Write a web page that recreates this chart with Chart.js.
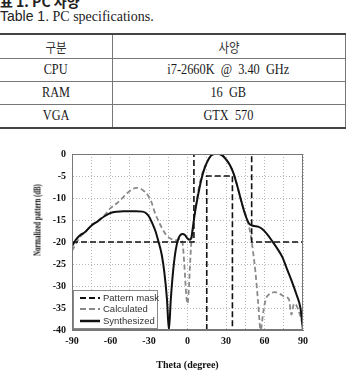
<!DOCTYPE html>
<html><head><meta charset="utf-8">
<script src="https://cdn.jsdelivr.net/npm/chart.js@4.4.1/dist/chart.umd.min.js"></script>
<style>
html,body{margin:0;padding:0;background:#fff;}
body{width:347px;height:371px;overflow:hidden;position:relative;}
#kcap{position:absolute;left:0;top:-6px;font:bold 14px/14px "Noto Sans CJK KR";color:#222;white-space:nowrap;}
#ecap{position:absolute;left:0;top:8px;line-height:16px;font-size:14px;color:#222;white-space:nowrap;}
#ecap .sans{font-family:"Liberation Sans Narrow","Liberation Sans";}
#ecap .serif{font-family:"Liberation Serif";}
#tbl{position:absolute;left:0;top:33px;border-collapse:collapse;table-layout:fixed;}
#tbl td{padding:0;text-align:center;border-bottom:1px solid #777;border-right:1px solid #777;font:14px "Liberation Serif";color:#1a1a1a;overflow:hidden;white-space:nowrap;}
#tbl tr:first-child td{border-top:2px solid #444;height:23px;}
#tbl tr:last-child td{border-bottom:2px solid #444;}
#tbl td span{display:inline-block;transform:scaleX(0.88);}
#tbl td.k{font-family:"Noto Sans CJK KR";font-size:13px;color:#333;}
#c{position:absolute;left:0;top:140px;}
#ytitle{position:absolute;left:37px;top:220px;transform:translate(-50%,-50%) rotate(-90deg) scaleX(0.68);font:bold 10px "Liberation Serif";color:#111;white-space:nowrap;z-index:2;}
#legend{position:absolute;left:73px;top:290px;width:83px;height:37px;border:1px solid #888;background:#fff;z-index:2;}
#legend .row{position:absolute;left:0;height:12px;width:83px;}
#legend svg{position:absolute;left:6px;top:0;}
#legend span{position:absolute;left:29px;top:0;font:9.5px/12px "Liberation Sans";color:#333;white-space:nowrap;}
</style></head><body>
<div id="kcap">표 1. PC 사양</div>
<div id="ecap"><span class="sans">Table 1.</span>&nbsp;<span class="serif">PC specifications.</span></div>
<table id="tbl">
<colgroup><col style="width:112px"><col style="width:233px"></colgroup>
<tr><td class="k"><span>구분</span></td><td class="k"><span>사양</span></td></tr>
<tr><td style="height:22px"><span>CPU</span></td><td><span>i7-2660K&nbsp; @&nbsp; 3.40&nbsp; GHz</span></td></tr>
<tr><td style="height:22px"><span>RAM</span></td><td><span>16&nbsp; GB</span></td></tr>
<tr><td style="height:22px"><span>VGA</span></td><td><span>GTX&nbsp; 570</span></td></tr>
</table>
<canvas id="c" width="347" height="231"></canvas>
<div id="ytitle">Normalized pattern (dB)</div>
<div id="legend">
 <div class="row" style="top:1px"><svg width="20" height="12"><line x1="0" y1="6" x2="20" y2="6" stroke="#111" stroke-width="2" stroke-dasharray="6,3"/></svg><span>Pattern mask</span></div>
 <div class="row" style="top:12px"><svg width="20" height="12"><line x1="0" y1="6" x2="20" y2="6" stroke="#888" stroke-width="2" stroke-dasharray="6,3"/></svg><span>Calculated</span></div>
 <div class="row" style="top:24px"><svg width="20" height="12"><line x1="0" y1="6" x2="20" y2="6" stroke="#111" stroke-width="2.5"/></svg><span>Synthesized</span></div>
</div>
<script>
// ---- data ----
const synthTheta = [-90,-87,-84,-80,-75,-70,-65,-60,-55,-50,-45,-40,-35,-32,-30,-28,-25,-23,-20,-18,-16,-14.5,-13,-11,-9,-7,-4,-2,0,2,3,4.5,6,8,10.7,13,15,18,21,24,27,30,33,36,39,42,45,48,51,55,58,62,66,70,74,78,82,85,88,90];
const synthDb    = [-21,-19.5,-18.5,-17.8,-16.3,-15.3,-14.2,-13.4,-13.1,-13,-13,-13,-13.1,-13.5,-14.2,-15.4,-17.5,-19.5,-23,-27,-33,-40,-33,-26,-21.5,-19.2,-18.2,-18.4,-19.2,-19.5,-19,-16,-13,-9.7,-5.9,-3.5,-2,-0.5,0,0,-0.3,-1.2,-2.5,-4.5,-7.5,-10.8,-13.8,-15.8,-16.3,-16.5,-17,-18.2,-19.8,-21.5,-23.5,-26.5,-29.5,-32,-35,-40];
const calcTheta  = [-90,-87,-84,-80,-75,-70,-65,-60,-55,-50,-47,-43,-40,-37,-34,-31,-28,-25.7,-23,-20.5,-16.6,-12.7,-9,-6,-4,-2.5,-1,0,1,2,3,4,5,7,9,12,15,18,21,24,27,30,33,36,39,42,45,47,49,51,53,55,57,59,61,64,68,72,76,79,81,83,85,87,89,90];
const calcDb     = [-22,-20.5,-19,-17.8,-16.3,-15.2,-14,-12.3,-11.2,-9.8,-8.9,-8,-7.7,-7.8,-8.4,-9.3,-11,-13.1,-15,-16.5,-18.4,-19.3,-19.6,-19.3,-20,-25,-32,-34,-31,-25,-20,-17.5,-15,-11,-7.5,-4,-2,-0.5,0,0,-0.3,-1.2,-2.5,-4.5,-7.5,-10.8,-13.5,-15.5,-18,-22,-27,-33.6,-40,-36,-33,-31.8,-31.4,-31.8,-32.5,-33,-36.5,-34,-34.5,-36,-38,-40];
const maskUpperTheta = [-90,5,5,50,50,90];
const maskUpperDb    = [-20,-20,0,0,-20,-20];
const maskLowerTheta = [15,15,35,35];
const maskLowerDb    = [-40,-5,-5,-40];
const xTicks = [-90,-60,-30,0,30,60,90];
const yTicks = [0,-5,-10,-15,-20,-25,-30,-35,-40];

const pts = (xs, ys) => xs.map((x, i) => ({x: x, y: ys[i]}));

const framePlugin = {
  id: 'frame',
  afterDraw(chart) {
    const a = chart.chartArea, ctx = chart.ctx;
    ctx.save();
    ctx.strokeStyle = '#777';
    ctx.lineWidth = 1;
    ctx.strokeRect(Math.round(a.left) + 0.5, Math.round(a.top) + 0.5, Math.round(a.right - a.left) - 1, Math.round(a.bottom - a.top) - 1);
    ctx.restore();
  }
};

const tickFont = {family: '"Liberation Serif", "Times New Roman", serif', size: 10, weight: 'bold'};

new Chart(document.getElementById('c'), {
  type: 'scatter',
  data: {
    datasets: [
      {label: 'Pattern mask', data: pts(maskUpperTheta, maskUpperDb), showLine: true, borderColor: '#111', borderWidth: 1.6, borderDash: [6, 3], pointRadius: 0, tension: 0, order: 1},
      {label: 'Pattern mask (lower)', data: pts(maskLowerTheta, maskLowerDb), showLine: true, borderColor: '#111', borderWidth: 1.6, borderDash: [6, 3], pointRadius: 0, tension: 0, order: 1},
      {label: 'Calculated', data: pts(calcTheta, calcDb), showLine: true, borderColor: '#8a8a8a', borderWidth: 1.8, borderDash: [5, 3], pointRadius: 0, cubicInterpolationMode: 'monotone', order: 3},
      {label: 'Synthesized', data: pts(synthTheta, synthDb), showLine: true, borderColor: '#111', borderWidth: 2, pointRadius: 0, cubicInterpolationMode: 'monotone', order: 2}
    ]
  },
  options: {
    responsive: false,
    devicePixelRatio: 1,
    animation: false,
    layout: {padding: {top: 14, right: 44, left: 0, bottom: 0}},
    plugins: {legend: {display: false}, tooltip: {enabled: false}},
    scales: {
      x: {
        type: 'linear', min: -90, max: 90,
        afterBuildTicks(s) { const t = []; for (let v = -90; v <= 90; v += 15) t.push({value: v}); s.ticks = t; },
        afterFit(s) { s.height = 41; },
        ticks: {autoSkip: false, maxRotation: 0, padding: 5, color: '#111', font: tickFont,
          callback: (v) => xTicks.includes(v) ? String(v) : ''},
        grid: {color: '#b8b8b8', lineWidth: 1, drawTicks: false},
        border: {display: true, color: '#777', dash: [1, 2]},
        title: {display: true, text: 'Theta (degree)', color: '#111', font: tickFont, padding: {top: 8, bottom: 0}}
      },
      y: {
        type: 'linear', min: -40, max: 0,
        afterBuildTicks(s) { s.ticks = yTicks.map(v => ({value: v})); },
        afterFit(s) { s.width = 72; },
        ticks: {padding: 6, color: '#111', font: tickFont},
        grid: {color: '#b8b8b8', lineWidth: 1, drawTicks: false},
        border: {display: true, color: '#777', dash: [1, 2]}
      }
    }
  },
  plugins: [framePlugin]
});
</script>
</body></html>
